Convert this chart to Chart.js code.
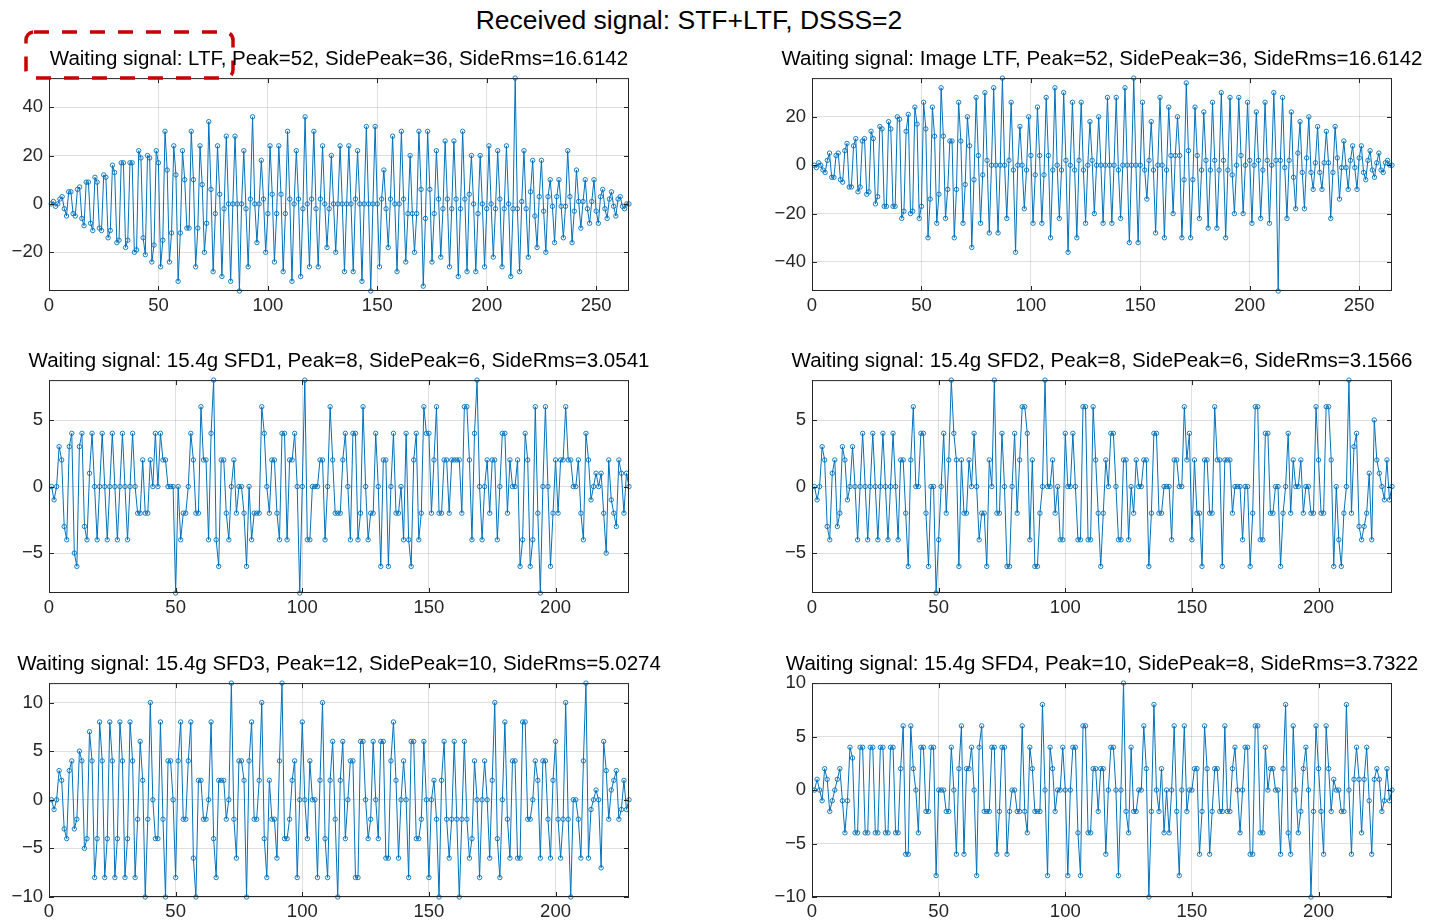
<!DOCTYPE html>
<html>
<head>
<meta charset="utf-8">
<title>Received signal: STF+LTF, DSSS=2</title>
<script src="https://cdn.jsdelivr.net/npm/chart.js@4.4.1/dist/chart.umd.min.js"></script>
<style>
    html, body { margin: 0; padding: 0; background: #fff; }
    body { position: relative; width: 1430px; height: 923px; overflow: hidden; font-family: 'Liberation Sans', Arial, sans-serif; }
    .ttl { position: absolute; transform: translateX(-50%); white-space: nowrap; line-height: 1; color: #000; font-size: 20.5px; }
    .ttl.main { font-size: 26.5px; }
    canvas { position: absolute; }
    svg.note { position: absolute; left: 0; top: 0; pointer-events: none; }
</style>
</head>
<body>
<div class="ttl main" style="left:689px;top:7px">Received signal: STF+LTF, DSSS=2</div>

<svg class="note" width="1430" height="923">
    <rect x="26" y="32" width="207" height="46" rx="8" ry="8" fill="none" stroke="#C80000" stroke-width="3.5" stroke-dasharray="15 13"/>
</svg>

<script>
'use strict';

/* ── Data (x = 1..N) ─────────────────────────────────────────────────────── */

const LTF_X_TICKS = [0, 50, 100, 150, 200, 250];
const SFD_X_TICKS = [0, 50, 100, 150, 200];
const LTF_Y_TICKS = [-20, 0, 20, 40];
const IMG_Y_TICKS = [-40, -20, 0, 20];
const SFD8_Y_TICKS = [-5, 0, 5];
const SFD10_Y_TICKS = [-10, -5, 0, 5, 10];

const TITLES = [
    'Waiting signal: LTF, Peak=52, SidePeak=36, SideRms=16.6142',
    'Waiting signal: Image LTF, Peak=52, SidePeak=36, SideRms=16.6142',
    'Waiting signal: 15.4g SFD1, Peak=8, SidePeak=6, SideRms=3.0541',
    'Waiting signal: 15.4g SFD2, Peak=8, SidePeak=6, SideRms=3.1566',
    'Waiting signal: 15.4g SFD3, Peak=12, SidePeak=10, SideRms=5.0274',
    'Waiting signal: 15.4g SFD4, Peak=10, SidePeak=8, SideRms=3.7322',
];

const LTF_CORR = [
    0, 1, -1, 0, 2, 3, -2, -5, 5, 5,
    -4, -5, 6, 7, -6, -9, 9, 9, -8, -11,
    11, 9, -10, -11, 12, 11, -14, -11, 16, 13,
    -16, -15, 17, 17, -18, -15, 17, 17, -20, -19,
    22, 19, -14, -21, 20, 19, -24, -17, 22, 17,
    -26, -15, 30, 14, -24, -12, 24, 12, -32, -12,
    22, 10, -10, -10, 30, 10, -26, -10, 24, 8,
    -20, -8, 34, 6, -28, -4, 24, 4, -30, -2,
    28, 0, -32, 0, 28, 0, -36, 0, 22, -2,
    -26, 2, 36, 0, -16, 0, 18, 2, -20, -4,
    24, 4, -24, -4, 24, 4, -28, -4, 30, 2,
    -32, 0, 22, 2, -30, -2, 36, 0, -26, 2,
    30, -2, -26, 2, 24, 0, -18, -2, 20, 0,
    -20, 0, 24, 0, -28, 0, 24, 0, -28, 2,
    22, 0, -32, 0, 32, 0, -36, 0, 32, 0,
    -26, 2, 14, -2, -18, 2, 28, 0, -28, 0,
    30, 2, -24, -4, 20, -4, -20, -4, 30, 6,
    -34, -6, 30, 6, -24, -4, 22, 2, -22, -2,
    26, 2, -26, -2, 26, 2, -30, -2, 30, 2,
    -28, 4, 20, 0, -28, -4, 20, 0, -26, -2,
    24, 0, -22, -2, 22, 2, -26, -2, 24, 0,
    -30, -2, 52, -2, -28, 1, 22, -2, -22, 5,
    18, -5, -18, 3, 18, -3, -20, 3, 10, -1,
    -16, 3, 10, -1, -14, -1, 22, 3, -16, -3,
    14, 1, -10, 1, 10, -2, -8, 1, 10, -3,
    -8, 3, 6, -2, -6, 2, 5, -1, -5, 2,
    3, -1, -2, 0, 0,
];

const IMG_LTF_CORR = [
    0, -1, 1, 0, -2, -3, 2, 5, -5, -5,
    4, 5, -6, -7, 6, 9, -9, -9, 8, 11,
    -11, -9, 10, 11, -12, -11, 14, 11, -16, -13,
    16, 15, -17, -17, 18, 15, -17, -17, 20, 19,
    -22, -19, 14, 21, -20, -19, 24, 17, -22, -17,
    26, 15, -30, -14, 24, 12, -24, -12, 32, 12,
    -22, -10, 10, 10, -30, -10, 26, 10, -24, -8,
    20, 8, -34, -6, 28, 4, -24, -4, 30, 2,
    -28, 0, 32, 0, -28, 0, 36, 0, -22, 2,
    26, -2, -36, 0, 16, 0, -18, -2, 20, 4,
    -24, -4, 24, 4, -24, -4, 28, 4, -30, -2,
    32, 0, -22, -2, 30, 2, -36, 0, 26, -2,
    -30, 2, 26, -2, -24, 0, 18, 2, -20, 0,
    20, 0, -24, 0, 28, 0, -24, 0, 28, -2,
    -22, 0, 32, 0, -32, 0, 36, 0, -32, 0,
    26, -2, -14, 2, 18, -2, -28, 0, 28, 0,
    -30, -2, 24, 4, -20, 4, 20, 4, -30, -6,
    34, 6, -30, -6, 24, 4, -22, -2, 22, 2,
    -26, -2, 26, 2, -26, -2, 30, 2, -30, -2,
    28, -4, -20, 0, 28, 4, -20, 0, 26, 2,
    -24, 0, 22, 2, -22, -2, 26, 2, -24, 0,
    30, 2, -52, 2, 28, -1, -22, 2, 22, -5,
    -18, 5, 18, -3, -18, 3, 20, -3, -10, 1,
    16, -3, -10, 1, 14, 1, -22, -3, 16, 3,
    -14, -1, 10, -1, -10, 2, 8, -1, -10, 3,
    8, -3, -6, 2, 6, -2, -5, 1, 5, -2,
    -3, 1, 2, 0, 0,
];

const SFD1_CORR = [
    0, -1, 0, 3, 2, -3, -4, 3, 4, -5,
    -6, 3, 4, -3, -4, 1, 4, 0, -4, 0,
    4, 0, -4, 0, 4, 0, -4, 0, 4, 0,
    -4, 0, 4, 0, -2, -2, 2, -2, -2, 2,
    0, 4, 0, 4, 2, 2, 0, 0, 0, -8,
    0, -4, -2, -2, 0, 4, 2, -2, -2, 6,
    2, 2, -4, 4, 8, -4, -6, 2, 2, -2,
    -4, 0, 2, -2, 0, 0, -2, -6, 0, -4,
    -2, -2, -2, 6, 4, 0, -2, 2, 2, -2,
    -4, 4, 4, -4, 2, 2, 4, 0, -8, 0,
    8, -4, -4, 0, 0, 0, 2, 2, -4, 0,
    6, 2, -2, -2, -2, 2, 4, 0, -4, 4,
    4, -4, -2, 6, 0, -4, -2, -2, 4, 0,
    -6, 2, 2, -6, 0, 4, -2, -2, 0, -4,
    4, -4, -6, 2, 4, -4, -2, 6, 4, 4,
    -2, 2, 6, -2, -2, 2, 2, -2, 2, 2,
    2, 2, -2, 6, 6, 2, -4, 4, 8, 0,
    -4, 0, 2, -2, 2, 2, -4, 0, 4, 4,
    -2, 2, 0, 0, 2, -6, -4, 4, 2, -6,
    -4, 6, -2, -8, 0, 6, 0, -6, -2, 2,
    -2, 2, 2, 6, 2, 2, 0, 0, 2, -2,
    -4, 4, 2, -1, 0, 1, 0, 1, -2, -5,
    2, -1, -2, -3, 2, 1, -2, 1, 0,
];

const SFD2_CORR = [
    0, -1, 0, 3, 2, -3, -4, 1, 2, -3,
    -2, 3, 2, -1, 0, 3, 0, -4, 0, 4,
    0, -4, 0, 4, 0, -4, 0, 4, 0, -4,
    0, 4, 0, -4, 2, 2, -2, -6, 2, 6,
    0, 0, 4, 4, -2, -6, 0, 0, -8, -4,
    0, 4, -2, 2, 8, 4, 2, -6, 2, -2,
    -2, 2, 0, 4, 0, -4, -2, -2, -6, 2,
    0, 8, -2, -2, 4, 0, -6, -6, 0, 4,
    -2, 2, 6, 6, 4, -4, 2, -6, -6, -2,
    0, 8, 0, 0, 2, -2, 0, -4, -4, 4,
    0, 0, 4, 0, -4, -4, 6, 6, -4, -4,
    6, 2, -2, -6, -2, 2, 0, 4, 4, 0,
    -4, -4, 2, 2, -4, 0, -2, 2, 0, 0,
    2, 2, -6, -2, 4, 4, -2, -2, 0, 0,
    0, -4, 2, 2, 0, 0, 6, 2, 4, -4,
    2, -2, -2, -6, 2, 2, -2, -2, 6, 2,
    2, -6, 2, 2, 2, -2, 0, 0, 0, -4,
    0, 0, -6, -2, 6, 6, -4, -4, 4, 4,
    -2, -2, 0, 0, -6, -2, 0, 4, -2, 2,
    0, 0, 2, -2, 0, 0, -2, -2, 6, 2,
    -2, -2, 6, 6, 2, -6, 0, -4, -6, -2,
    0, 8, -2, 3, 4, -3, -4, -3, -2, 1,
    -4, 5, 2, 1, 0, -1, 2, -1, 0,
];

const SFD3_CORR = [
    0, -1, 0, 3, 2, -3, -4, 3, 4, -3,
    -2, 5, 4, -5, -4, 7, 4, -8, -4, 8,
    4, -8, -4, 8, 4, -8, -4, 8, 4, -8,
    -4, 8, 4, -8, -2, 6, 2, -10, -2, 10,
    0, -4, -4, 8, -2, -10, 4, 4, 0, -8,
    4, 8, -2, -2, 4, 8, -6, -10, 2, 2,
    -2, -2, 0, 8, -4, -8, 2, 2, 2, -2,
    0, 12, -2, -6, 4, 4, 2, -10, 4, 8,
    -2, -2, 2, 10, -4, -8, 2, -2, -2, -6,
    4, 12, -4, -4, -2, 2, 4, -8, 0, 8,
    0, -4, 4, 0, 0, -8, 2, 10, -4, -8,
    2, 6, -2, -10, 2, 6, -4, 0, 4, 4,
    -8, -8, 6, 6, 0, -4, -2, 6, 0, -4,
    6, 6, -6, -6, 4, 8, 2, -6, 0, 4,
    0, -8, 6, 6, -4, -4, -2, 6, 0, -8,
    0, 2, -2, -10, 2, 6, -2, -6, -2, 6,
    -2, -10, -2, 6, -2, -6, -4, 4, 0, -8,
    0, 4, 0, -6, 2, 10, -4, -8, 0, 8,
    -2, -6, 4, 4, -6, -6, 8, 8, -2, -2,
    0, 4, 2, -6, 4, 4, -2, -6, 2, 6,
    -2, -6, -2, 10, -2, -10, 0, 0, -2, -6,
    4, 12, -6, -1, 0, 1, 0, -7, 6, 3,
    -2, 1, 2, 3, -2, -1, 2, -1, 0,
];

const SFD4_CORR = [
    0, 1, 0, -1, 2, 1, -2, -1, 0, 1,
    2, -1, -4, -1, 4, 3, -4, -4, 4, 4,
    -4, -4, 4, 4, -4, -4, 4, 4, -4, -4,
    4, 4, -4, -4, 2, 6, -6, -6, 6, 2,
    0, -4, 4, 4, -2, -2, 4, 4, -8, 0,
    0, 0, -2, -2, 4, 0, -6, 2, 6, -6,
    2, 2, 4, 0, -8, 4, 6, -2, -2, -2,
    4, 4, -6, -2, 4, 4, -6, -2, 0, 0,
    -2, -2, 6, -2, -4, 4, 2, -2, -2, -2,
    8, 0, -8, 4, 2, -2, 0, 0, 4, 0,
    -8, 0, 4, 4, -4, -8, 6, 6, -4, -4,
    2, 2, -2, 2, 2, -6, 0, 4, 4, 0,
    -8, 0, 10, -2, -4, 4, -2, -2, 0, 0,
    6, 2, -10, -2, 8, 0, -2, 2, -4, 0,
    -4, 0, 6, -2, -8, 0, 6, -2, 0, 0,
    2, 2, -6, -2, 6, 2, -6, -2, 2, 2,
    -2, -2, 6, -2, -2, 2, 4, 0, -4, 0,
    4, 4, -6, -6, 6, 6, -4, -4, 4, 0,
    2, 2, 0, 0, -6, 2, 8, -4, -6, 6,
    0, -4, -2, 2, 4, 0, -10, -2, 6, 2,
    -2, -6, 6, 2, -2, 1, 0, 0, -2, -2,
    8, 0, -6, 1, 4, 1, -4, 1, 4, -1,
    -6, 1, 2, 1, -2, -1, 2, -1, 0,
];

/* ── Look ────────────────────────────────────────────────────────────────── */

const BLUE = '#0072BD';
const AXIS_COLOR = '#262626';
const GRID_COLOR = 'rgba(38,38,38,0.15)';
const TICK_FONT = { family: "'Liberation Sans', Arial, sans-serif", size: 18.5 };
const TICK_LEN = 5;

// canvas margin around each plot box (room for tick labels)
const PAD_L = 50, PAD_T = 12, PAD_R = 12, PAD_B = 32;

const fmtTick = v => (v < 0 ? '\u2212' + Math.abs(v) : String(v));

/* MATLAB style box with inward ticks on all four sides */
const boxPlugin = {
    id: 'matlabBox',
    afterDraw(chart) {
        const { ctx, chartArea: a, scales: { x, y } } = chart;
        ctx.save();
        ctx.strokeStyle = AXIS_COLOR;
        ctx.lineWidth = 1;
        ctx.strokeRect(a.left + 0.5, a.top + 0.5, a.width - 1, a.height - 1);
        ctx.beginPath();
        x.ticks.forEach(t => {
            const px = Math.round(x.getPixelForValue(t.value)) + 0.5;
            ctx.moveTo(px, a.bottom); ctx.lineTo(px, a.bottom - TICK_LEN);
            ctx.moveTo(px, a.top); ctx.lineTo(px, a.top + TICK_LEN);
        });
        y.ticks.forEach(t => {
            const py = Math.round(y.getPixelForValue(t.value)) + 0.5;
            ctx.moveTo(a.left, py); ctx.lineTo(a.left + TICK_LEN, py);
            ctx.moveTo(a.right, py); ctx.lineTo(a.right - TICK_LEN, py);
        });
        ctx.stroke();
        ctx.restore();
    },
};

/* ── Panels ──────────────────────────────────────────────────────────────── */

const PANELS = [
    { title: TITLES[0], values: LTF_CORR,     xMax: 265, yMin: -36, yMax: 52, xTicks: LTF_X_TICKS, yTicks: LTF_Y_TICKS,   box: [49, 73, 580, 218],  titleTop: 48 },
    { title: TITLES[1], values: IMG_LTF_CORR, xMax: 265, yMin: -52, yMax: 36, xTicks: LTF_X_TICKS, yTicks: IMG_Y_TICKS,   box: [812, 73, 580, 218], titleTop: 48 },
    { title: TITLES[2], values: SFD1_CORR,    xMax: 229, yMin: -8,  yMax: 8,  xTicks: SFD_X_TICKS, yTicks: SFD8_Y_TICKS,  box: [49, 375, 580, 218], titleTop: 350 },
    { title: TITLES[3], values: SFD2_CORR,    xMax: 229, yMin: -8,  yMax: 8,  xTicks: SFD_X_TICKS, yTicks: SFD8_Y_TICKS,  box: [812, 375, 580, 218], titleTop: 350 },
    { title: TITLES[4], values: SFD3_CORR,    xMax: 229, yMin: -10, yMax: 12, xTicks: SFD_X_TICKS, yTicks: SFD10_Y_TICKS, box: [49, 678, 580, 219], titleTop: 653 },
    { title: TITLES[5], values: SFD4_CORR,    xMax: 229, yMin: -10, yMax: 10, xTicks: SFD_X_TICKS, yTicks: SFD10_Y_TICKS, box: [812, 678, 580, 219], titleTop: 653 },
];

function makePanel(p) {
    const [L, T, W, H] = p.box;

    const t = document.createElement('div');
    t.className = 'ttl';
    t.style.left = (L + W / 2) + 'px';
    t.style.top = p.titleTop + 'px';
    t.textContent = p.title;
    document.body.appendChild(t);

    const cv = document.createElement('canvas');
    cv.width = W + PAD_L + PAD_R;
    cv.height = H + PAD_T + PAD_B;
    cv.style.left = (L - PAD_L) + 'px';
    cv.style.top = (T - PAD_T) + 'px';
    document.body.insertBefore(cv, document.querySelector('svg.note'));

    const axisCommon = {
        type: 'linear',
        grid: { color: GRID_COLOR, lineWidth: 1, drawTicks: false },
        border: { display: false },
    };

    new Chart(cv.getContext('2d'), {
        type: 'line',
        data: {
            datasets: [{
                data: p.values.map((v, i) => ({ x: i + 1, y: v })),
                borderColor: BLUE,
                borderWidth: 1,
                tension: 0,
                pointRadius: 2.2,
                pointBorderWidth: 0.9,
                pointBorderColor: BLUE,
                pointBackgroundColor: 'rgba(0,0,0,0)',
                clip: 6,
            }],
        },
        options: {
            responsive: false,
            animation: false,
            events: [],
            layout: { padding: { left: 0, top: PAD_T, right: PAD_R, bottom: 0 } },
            plugins: { legend: { display: false }, tooltip: { enabled: false } },
            scales: {
                x: {
                    ...axisCommon,
                    min: 0, max: p.xMax,
                    afterBuildTicks: s => { s.ticks = p.xTicks.map(v => ({ value: v })); },
                    afterFit: s => { s.height = PAD_B; },
                    ticks: { padding: 4, maxRotation: 0, autoSkip: false, color: AXIS_COLOR, font: TICK_FONT, callback: fmtTick },
                },
                y: {
                    ...axisCommon,
                    min: p.yMin, max: p.yMax,
                    afterBuildTicks: s => { s.ticks = p.yTicks.map(v => ({ value: v })); },
                    afterFit: s => { s.width = PAD_L; },
                    ticks: { padding: 6, autoSkip: false, color: AXIS_COLOR, font: TICK_FONT, callback: fmtTick },
                },
            },
        },
        plugins: [boxPlugin],
    });
}

PANELS.forEach(makePanel);
</script>
</body>
</html>
